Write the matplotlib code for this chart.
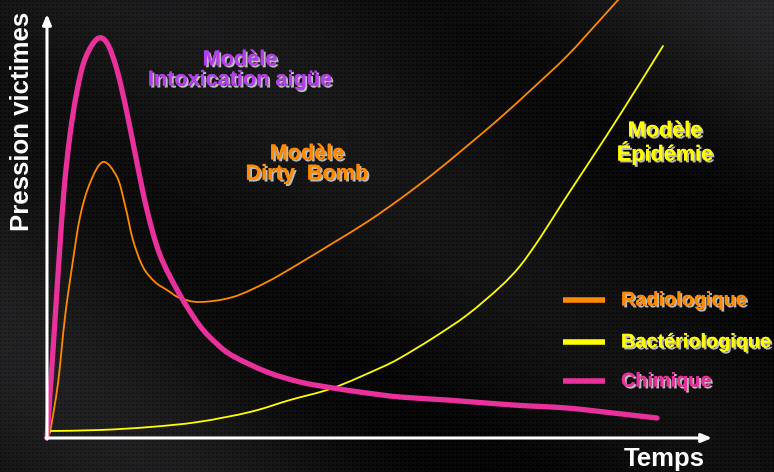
import numpy as np
import matplotlib
matplotlib.use("Agg")
import matplotlib.pyplot as plt
import matplotlib.patheffects as pe
from matplotlib.path import Path
from matplotlib.patches import PathPatch

# --- data (time units / victim pressure units, origin at axes corner)
chim_t = [0, 6, 12, 17, 23, 30, 38, 50, 60, 70, 80, 90, 100, 113, 133, 153, 170, 186,
          220, 253, 286, 320, 353, 400, 466, 520, 566, 610]
chim_p = [0, 88, 178, 248, 303, 347, 379, 399, 395, 368, 325, 275, 228, 183, 143,
          112, 94, 82, 66, 56, 50, 45, 41, 38, 33, 30, 25, 20]

radio_t = [3, 11, 18, 25, 33, 43, 56, 70, 78, 86, 96, 108, 120, 133, 153, 186, 220,
           253, 286, 320, 353, 386, 420, 453, 486, 520, 553, 571, 593]
radio_p = [5, 55, 121, 171, 221, 255, 276, 261, 233, 198, 171, 156, 148, 140, 136,
           141, 156, 175, 195, 216, 239, 264, 292, 320, 350, 382, 418, 438, 462]

bact_t = [3, 53, 103, 151, 203, 243, 286, 333, 353, 386, 420, 453, 473, 493, 516, 543,
          576, 616]
bact_p = [7, 8, 11, 16, 26, 38, 50, 70, 80, 100, 123, 151, 172, 200, 236, 277, 328, 392]

series = ["Radiologique", "Bactériologique", "Chimique"]
colors = {"Radiologique": "#ff8a00", "Bactériologique": "#ffff00", "Chimique": "#e8319a"}

FONT = ["Liberation Sans", "DejaVu Sans"]
shadow = [pe.withSimplePatchShadow(offset=(1.4, -1.4), shadow_rgbFace="#d8d8d8", alpha=0.85),
          pe.Normal()]


def smooth_path(t, p):
    """Catmull-Rom through the points, handed to matplotlib as cubic Bezier segments."""
    pts = np.column_stack([t, p]).astype(float)
    ext = np.vstack([pts[0], pts, pts[-1]])
    verts, codes = [pts[0]], [Path.MOVETO]
    for i in range(1, len(ext) - 2):
        p0, p1, p2, p3 = ext[i - 1], ext[i], ext[i + 1], ext[i + 2]
        verts += [p1 + (p2 - p0) / 6, p2 - (p3 - p1) / 6, p2]
        codes += [Path.CURVE4] * 3
    return Path(verts, codes)


fig = plt.figure(figsize=(7.74, 4.72), dpi=100)
ax = fig.add_axes([0, 0, 1, 1])
ax.set_xlim(-47, 727)
ax.set_ylim(-34, 438)
ax.axis("off")

# dark textured background with soft diagonal light bands
h, w = 472, 774
yy, xx = np.mgrid[0:h, 0:w]
d = (xx * 0.8 + (h - yy)) / 100.0
bg = 0.11 + 0.035 * np.sin(d * 1.3) + 0.03 * np.sin(d * 0.55 + 1.0)
bg -= 0.05 * (yy / h)
dots = ((xx % 4 < 2) & (yy % 4 < 2)) * 0.03
bg = np.clip(bg - dots, 0, 1)
rgb = np.dstack([bg, bg, bg * 1.05])
ax.imshow(rgb, extent=(-47, 727, -34, 438), aspect="auto", zorder=0, interpolation="bilinear")

# curves
for t, p, name, lw, z in [(radio_t, radio_p, "Radiologique", 1.3, 3),
                          (bact_t, bact_p, "Bactériologique", 1.3, 3),
                          (chim_t, chim_p, "Chimique", 3.8, 4)]:
    ax.add_patch(PathPatch(smooth_path(t, p), fill=False, edgecolor=colors[name], lw=lw,
                           capstyle="round", joinstyle="round", zorder=z))

# axes arrows
arrow = dict(arrowstyle="-|>,head_length=0.6,head_width=0.25", color="white", lw=2.2,
             shrinkA=0, shrinkB=0)
ax.annotate("", xy=(0, 424), xytext=(0, -1), arrowprops=arrow, zorder=5)
ax.annotate("", xy=(665, 0), xytext=(-1, 0), arrowprops=arrow, zorder=5)

ax.text(-25, 317, "Pression victimes", rotation=90, ha="center", va="center", color="white",
        fontsize=18.5, fontweight="bold", family=FONT)
ax.text(617, -21, "Temps", ha="center", va="center", color="white",
        fontsize=18.5, fontweight="bold", family=FONT)

# model labels
labels = [(193, 368, "Modèle\nIntoxication aigüe", "#b23fe8"),
          (260, 274, "Modèle\nDirty  Bomb", colors["Radiologique"]),
          (618, 295, "Modèle\nÉpidémie", colors["Bactériologique"])]
for t, p, s, c in labels:
    ax.text(t, p, s, ha="center", va="center", color=c, fontsize=15.6, fontweight="bold",
            family=FONT, linespacing=0.95, path_effects=shadow, zorder=6)

# legend drawn by hand
leg_p = [138, 96, 57]
for name, p in zip(series, leg_p):
    ax.plot([516, 558], [p, p], color=colors[name], lw=4, solid_capstyle="butt", zorder=6)
    ax.text(574, p, name, ha="left", va="center", color=colors[name], fontsize=14.3,
            fontweight="bold", family=FONT, path_effects=shadow, zorder=6)

fig.savefig("out.png", dpi=100, facecolor="black")
